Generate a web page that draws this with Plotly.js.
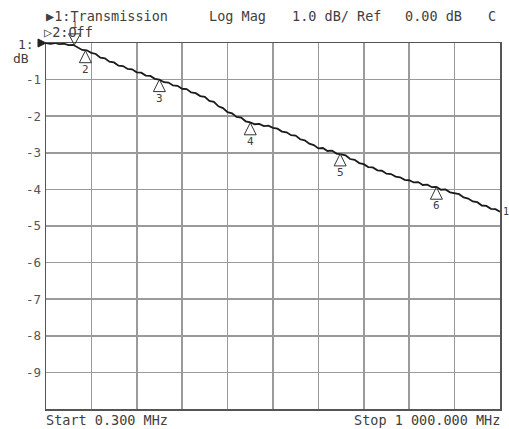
<!DOCTYPE html>
<html>
<head>
<meta charset="utf-8">
<script src="https://cdn.plot.ly/plotly-3.0.1.min.js"></script>
<style>html,body{margin:0;padding:0;background:#fff;}#chart{width:509px;height:429px;}</style>
</head>
<body>
<div id="chart"></div>
<script>
// Sweep frequencies (MHz) and transmission magnitude (dB)
const freqMHz = [0.3,10,20,30,40,50,60,70,80,90,100,110,120,130,140,150,160,170,180,190,200,210,220,230,240,250,260,270,280,290,300,310,320,330,340,350,360,370,380,390,400,410,420,430,440,450,460,470,480,490,500,510,520,530,540,550,560,570,580,590,600,610,620,630,640,650,660,670,680,690,700,710,720,730,740,750,760,770,780,790,800,810,820,830,840,850,860,870,880,890,900,910,920,930,940,950,960,970,980,990,1000];
const magDB = [0.00,-0.02,0.00,-0.03,-0.02,-0.06,-0.05,-0.12,-0.19,-0.20,-0.27,-0.30,-0.40,-0.42,-0.51,-0.53,-0.62,-0.63,-0.71,-0.72,-0.80,-0.81,-0.89,-0.90,-0.98,-1.00,-1.07,-1.08,-1.16,-1.17,-1.25,-1.26,-1.35,-1.37,-1.45,-1.47,-1.58,-1.61,-1.73,-1.78,-1.89,-1.92,-2.02,-2.04,-2.14,-2.17,-2.22,-2.21,-2.27,-2.26,-2.32,-2.34,-2.42,-2.44,-2.52,-2.53,-2.63,-2.66,-2.75,-2.79,-2.88,-2.87,-2.95,-2.94,-3.02,-3.04,-3.07,-3.17,-3.19,-3.28,-3.31,-3.39,-3.40,-3.48,-3.49,-3.57,-3.58,-3.65,-3.67,-3.74,-3.75,-3.81,-3.80,-3.88,-3.87,-3.94,-3.93,-4.01,-4.00,-4.08,-4.10,-4.13,-4.22,-4.25,-4.33,-4.35,-4.44,-4.45,-4.53,-4.54,-4.61];

// Markers
const markerNames = ["1","2","3","4","5","6"];
const markerFreq = [63, 87, 250, 450, 648, 860];
const markerDB = [-0.05, -0.21, -1.00, -2.18, -3.03, -3.94];

// Axis ticks
const yRange = [-10, 0];
const xRange = [0.3, 1000];
const yTickVals = [-1,-2,-3,-4,-5,-6,-7,-8,-9];
const yTickText = ["-1","-2","-3","-4","-5","-6","-7","-8","-9"];
const xGridVals = [100.27,200.24,300.21,400.18,500.15,600.12,700.09,800.06,900.03];

// Header texts
const headerTexts = ["\u25B61:Transmission","Log Mag","1.0 dB/ Ref","0.00 dB","C"];
const headerLeftPx = [44, 207, 290, 403, 486];
const footerLeft = "Start 0.300 MHz";
const footerRight = "Stop 1 000.000 MHz";

const FONT = "DejaVu Sans Mono, Liberation Mono, monospace";
const TXT = "#404040";
const W = 509, H = 429, ML = 46, MR = 9, MT = 43, MB = 20;
const PW = W - ML - MR, PH = H - MT - MB;
const px = x => (x - ML) / PW;
const py = y => (H - MB - y) / PH;
const yToPaper = v => (v - yRange[0]) / (yRange[1] - yRange[0]);

const annotations = [];
headerTexts.forEach((t, i) => {
  annotations.push({xref:'paper', yref:'paper', x:px(headerLeftPx[i]), y:py(16), xanchor:'left', yanchor:'middle',
    text:t, showarrow:false, font:{family:FONT, size:13.5, color:TXT}});
});
annotations.push({xref:'paper', yref:'paper', x:px(42), y:py(32), xanchor:'left', yanchor:'middle',
  text:"\u25B72:Off", showarrow:false, font:{family:FONT, size:13.5, color:TXT}});
annotations.push({xref:'paper', yref:'paper', x:px(36), y:py(44), xanchor:'right', yanchor:'middle',
  text:"1:", showarrow:false, font:{family:FONT, size:13, color:TXT}});
annotations.push({xref:'paper', yref:'paper', x:px(11), y:py(58), xanchor:'left', yanchor:'middle',
  text:"dB", showarrow:false, font:{family:FONT, size:13, color:TXT}});
annotations.push({xref:'paper', yref:'paper', x:px(44), y:py(420), xanchor:'left', yanchor:'middle',
  text:footerLeft, showarrow:false, font:{family:FONT, size:13.5, color:TXT}});
annotations.push({xref:'paper', yref:'paper', x:px(502), y:py(420), xanchor:'right', yanchor:'middle',
  text:footerRight, showarrow:false, font:{family:FONT, size:13.5, color:TXT}});
// trace end label
annotations.push({xref:'x', yref:'y', x:freqMHz[freqMHz.length-1], y:magDB[magDB.length-1], xanchor:'left', yanchor:'middle', xshift:1,
  text:"1", showarrow:false, font:{family:FONT, size:10, color:TXT}});

const shapes = [];
// reference pointer at left
shapes.push({type:'path', xref:'paper', yref:'paper', xsizemode:'pixel', ysizemode:'pixel', xanchor:0, yanchor:yToPaper(0),
  path:'M0,0 L-8,4 L-8,-4 Z', fillcolor:'#222', line:{color:'#222', width:1}});

markerNames.forEach((n, i) => {
  const active = i === 0;
  shapes.push({type:'path', xref:'x', yref:'paper', xsizemode:'pixel', ysizemode:'pixel',
    xanchor:markerFreq[i], yanchor:yToPaper(markerDB[i]),
    path: active ? 'M0,0 L-6,11 L6,11 Z' : 'M0,0 L-6,-12 L6,-12 Z',
    line:{color:'#333', width:1}, fillcolor:'rgba(0,0,0,0)'});
  annotations.push({xref:'x', yref:'y', x:markerFreq[i], y:markerDB[i], xanchor:'center',
    yanchor: active ? 'bottom' : 'top', yshift: active ? 13 : -10, text:n, showarrow:false,
    font:{family:FONT, size: active ? 9 : 11, color:TXT}});
});

const data = [{
  x: freqMHz, y: magDB, type:'scatter', mode:'lines',
  line:{color:'#1a1a1a', width:1.8}, hoverinfo:'skip'
}];

const layout = {
  width:W, height:H, margin:{l:ML, r:MR, t:MT, b:MB, pad:0},
  paper_bgcolor:'#fff', plot_bgcolor:'#fff', showlegend:false,
  xaxis:{range:xRange, tickvals:xGridVals, ticktext:xGridVals.map(()=>''), showgrid:true,
    gridcolor:'#9a9a9a', gridwidth:1.5, zeroline:false, showline:true, mirror:true,
    linecolor:'#555', linewidth:1.5, ticks:'', fixedrange:true},
  yaxis:{range:yRange, tickvals:yTickVals, ticktext:yTickText, showgrid:true,
    gridcolor:'#9a9a9a', gridwidth:1.5, zeroline:false, showline:true, mirror:true,
    linecolor:'#555', linewidth:1.5, ticks:'', ticklabelstandoff:1,
    tickfont:{family:FONT, size:12.5, color:'#555'}, fixedrange:true},
  annotations, shapes
};
Plotly.newPlot('chart', data, layout, {staticPlot:true, displayModeBar:false});
</script>
</body>
</html>
